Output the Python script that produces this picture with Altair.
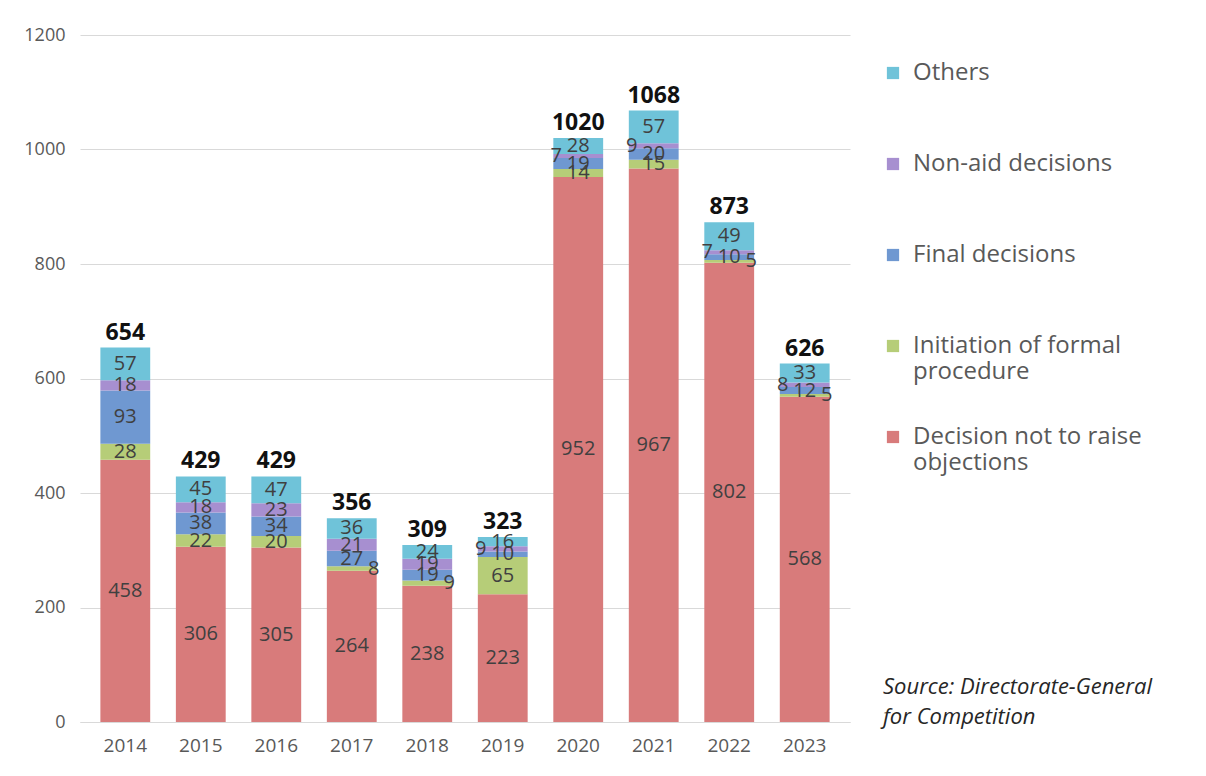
import altair as alt
import pandas as pd

years = ["2014", "2015", "2016", "2017", "2018", "2019", "2020", "2021", "2022", "2023"]
categories = ["Decision not to raise objections", "Initiation of formal procedure",
              "Final decisions", "Non-aid decisions", "Others"]
no_objection = [458, 306, 305, 264, 238, 223, 952, 967, 802, 568]
initiation = [28, 22, 20, 8, 9, 65, 14, 15, 5, 5]
final_dec = [93, 38, 34, 27, 19, 10, 19, 20, 10, 12]
non_aid = [18, 18, 23, 21, 19, 9, 7, 9, 7, 8]
others = [57, 45, 47, 36, 24, 16, 28, 57, 49, 33]
series = [no_objection, initiation, final_dec, non_aid, others]
colors = ["#d87b7b", "#b6cd78", "#6f98d1", "#a78fd0", "#6fc3d9"]

rows = []
for ci, (cat, vals) in enumerate(zip(categories, series)):
    for y, v in zip(years, vals):
        rows.append({"year": y, "category": cat, "order": ci, "value": v})
df = pd.DataFrame(rows)

FONT = "Open Sans"
legend_order = categories[::-1]
color_scale = alt.Scale(domain=legend_order, range=colors[::-1])

x = alt.X("year:N", title=None,
          scale=alt.Scale(paddingInner=0.34, paddingOuter=0.27),
          axis=alt.Axis(labelAngle=0, labelFontSize=19, labelColor="#595959",
                        labelFont=FONT, ticks=False, domainColor="#d9d9d9",
                        labelPadding=14))

base = alt.Chart(df)

label_expr = ("datum.label == 'Initiation of formal procedure' ? ['Initiation of formal', 'procedure'] : "
              "datum.label == 'Decision not to raise objections' ? ['Decision not to raise', 'objections'] : "
              "[datum.label, ' ']")

bars = base.mark_bar().encode(
    x=x,
    y=alt.Y("value:Q", stack="zero", title=None,
            scale=alt.Scale(domain=[0, 1200]),
            axis=alt.Axis(values=[0, 200, 400, 600, 800, 1000, 1200], format="d",
                          labelFontSize=18, labelColor="#595959", labelFont=FONT,
                          ticks=False, domain=False, gridColor="#d9d9d9", labelPadding=15)),
    color=alt.Color("category:N", scale=color_scale, title=None,
                    legend=alt.Legend(
                        orient="none", legendX=801, legendY=26,
                        symbolType="square", symbolSize=150, symbolStrokeWidth=0,
                        labelFontSize=24, labelFont=FONT, labelColor="#595959",
                        rowPadding=41, labelOffset=8, labelLimit=400,
                        labelExpr=label_expr,
                    )),
    order=alt.Order("order:Q", sort="ascending"),
)

mids = base.transform_window(
    cum="sum(value)", sort=[alt.SortField("order")], groupby=["year"],
    frame=[None, 0]
).transform_calculate(mid="datum.cum - datum.value / 2")

def seg_labels(filt, dx=0):
    return mids.transform_filter(filt).mark_text(
        fontSize=20, font=FONT, color="#404040", baseline="middle", dx=dx
    ).encode(x=alt.X("year:N"), y=alt.Y("mid:Q"), text="value:Q")

labels_big = seg_labels("datum.value >= 10")
labels_left = seg_labels("datum.value < 10 && datum.category == 'Non-aid decisions'", dx=-22)
labels_right = seg_labels("datum.value < 10 && datum.category != 'Non-aid decisions'", dx=22)

totals = base.transform_aggregate(total="sum(value)", groupby=["year"]).mark_text(
    fontSize=23, font=FONT, fontWeight="bold", color="#111111", baseline="bottom", dy=-3
).encode(x=alt.X("year:N"), y=alt.Y("total:Q"), text="total:Q")

source = alt.Chart(pd.DataFrame({"t": [["Source:  Directorate-General", "for Competition"]]})).mark_text(
    fontSize=22, font=FONT, fontStyle="italic", color="#262626", align="left",
    baseline="middle", lineHeight=30
).encode(x=alt.value(803), y=alt.value(652), text="t")

chart = alt.layer(bars, labels_big, labels_left, labels_right, totals, source).properties(
    width=770, height=687,
    autosize=alt.AutoSizeParams(type="none"),
    padding={"left": 72, "top": 27, "right": 340, "bottom": 40},
).configure_view(stroke=None)

chart.save("out.html", embed_options={"renderer": "svg", "actions": False})
